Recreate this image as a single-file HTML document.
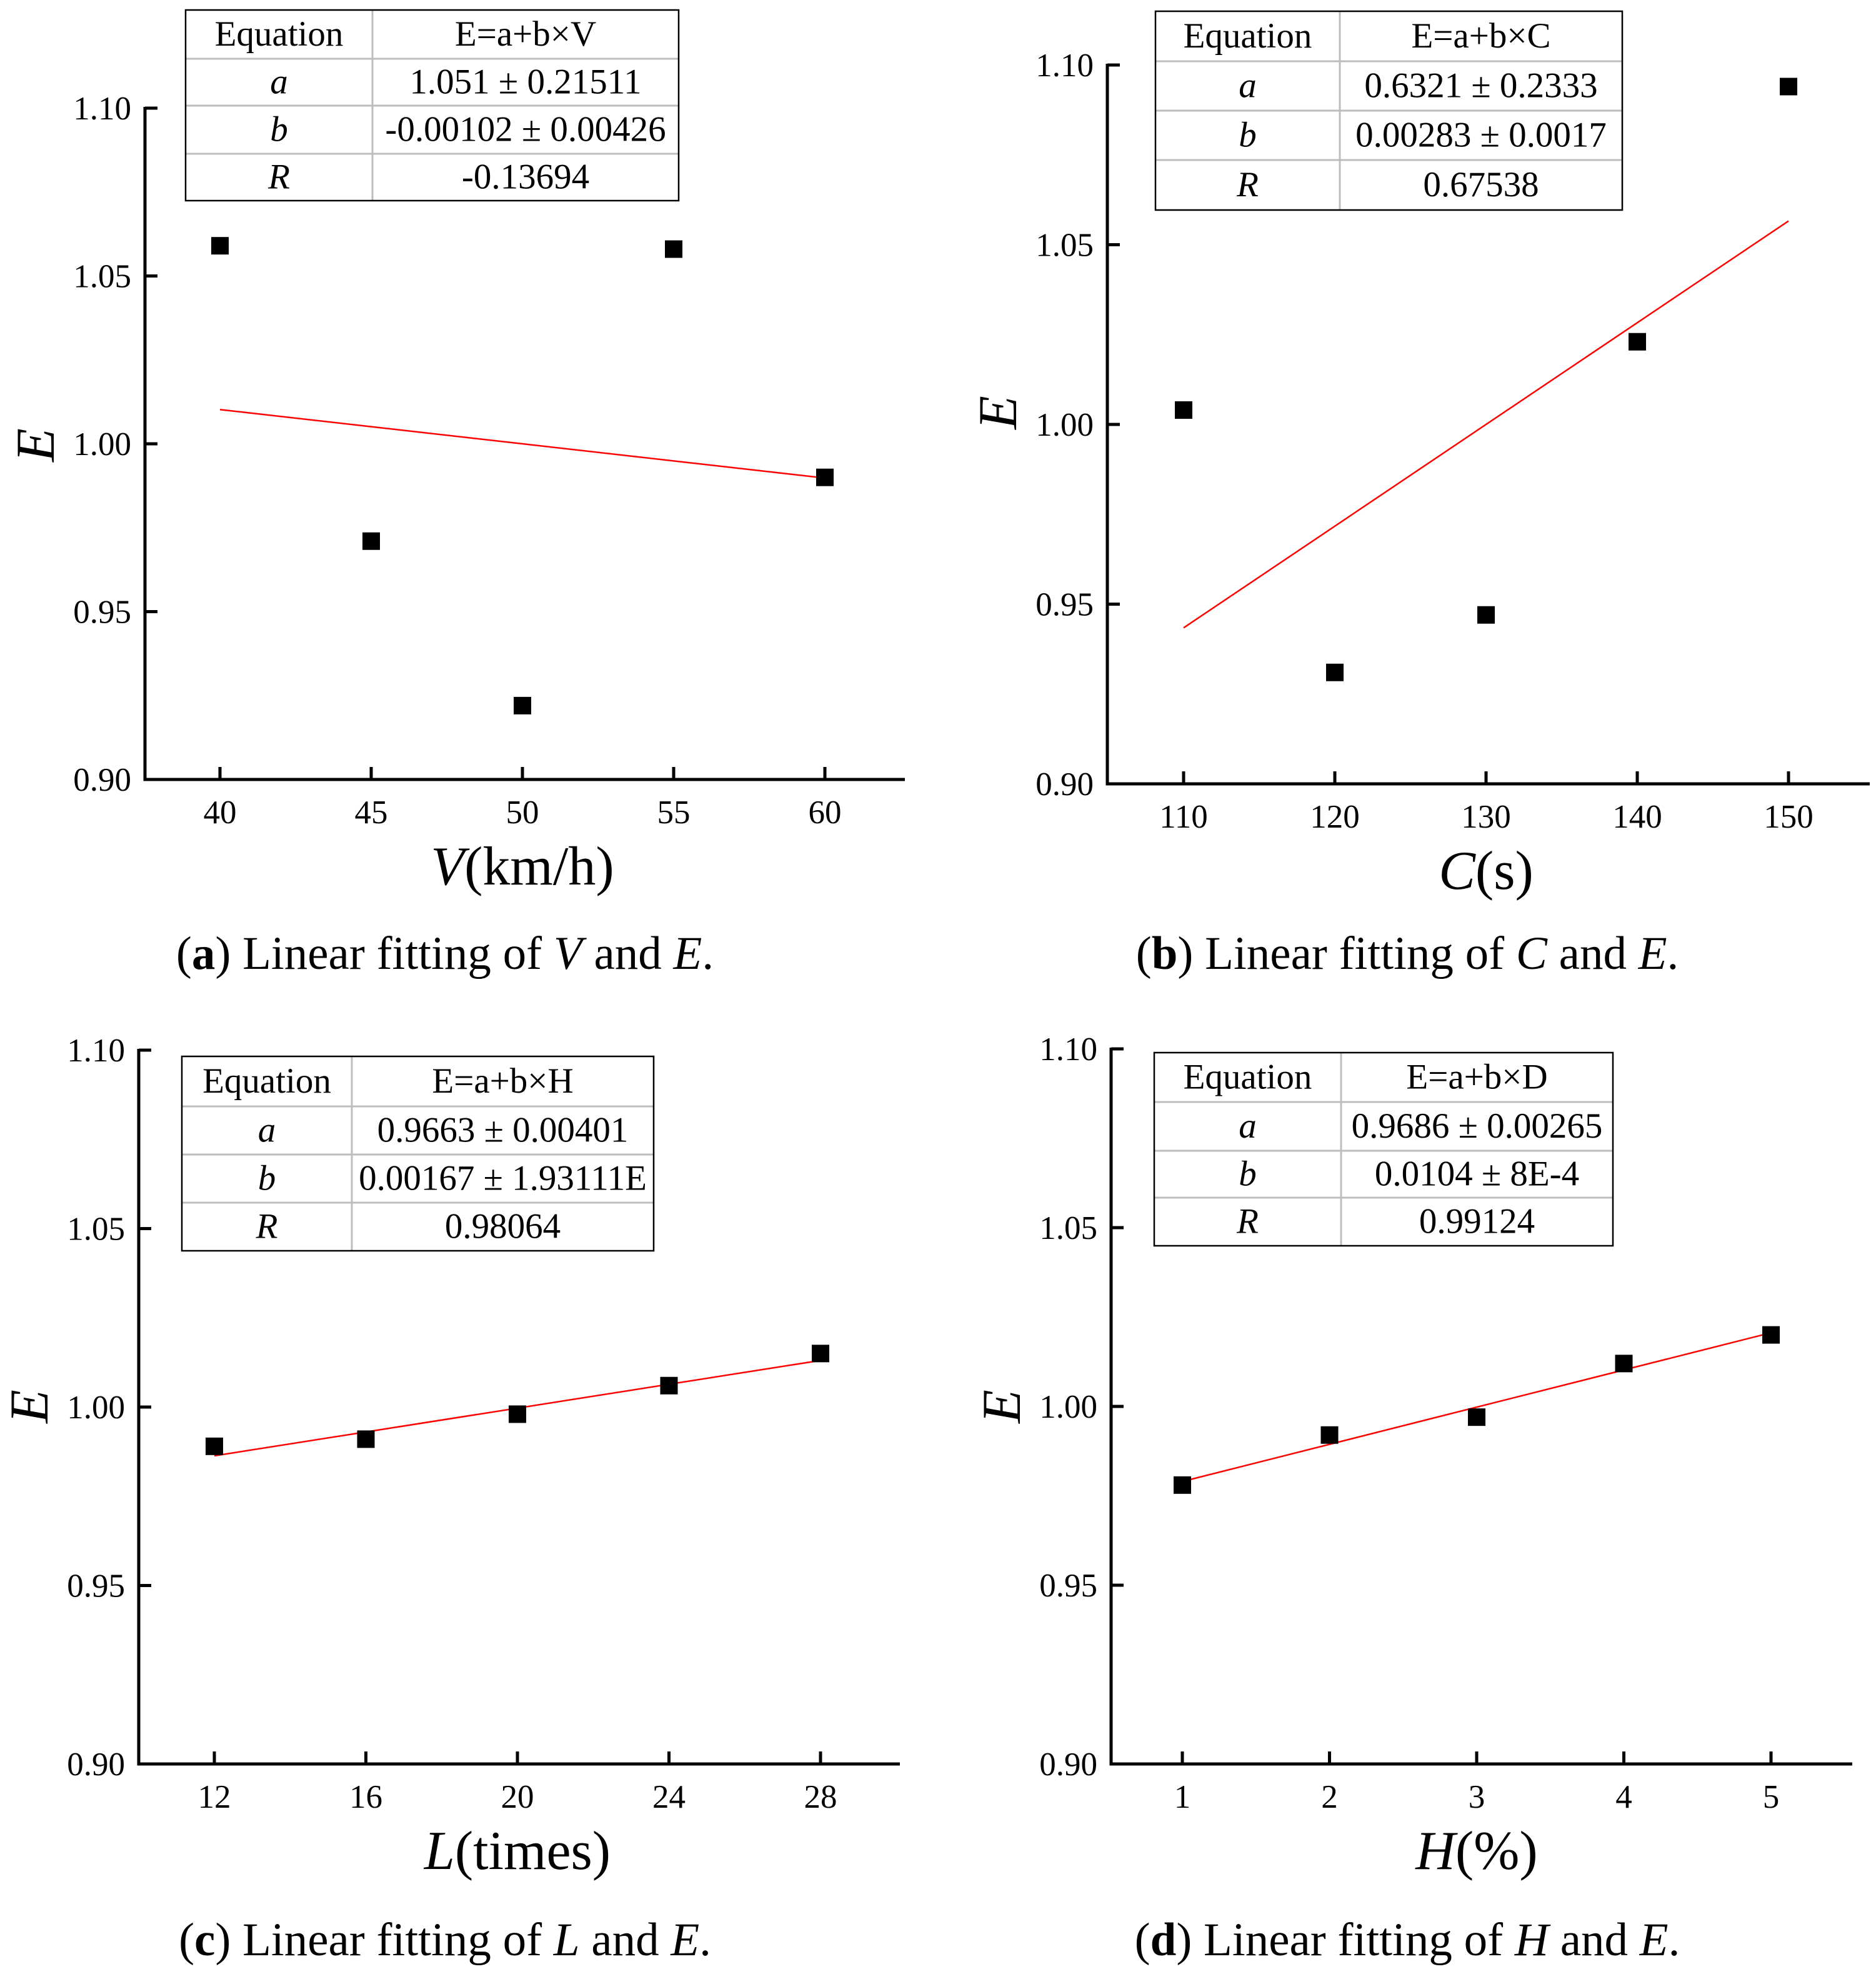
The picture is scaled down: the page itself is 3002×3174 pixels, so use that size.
<!DOCTYPE html>
<html><head><meta charset="utf-8">
<style>
html,body{margin:0;padding:0;background:#fff;}
svg{display:block;font-family:"Liberation Serif","DejaVu Serif",serif;}
</style></head>
<body>
<svg id="fig" width="3002" height="3174" viewBox="0 0 3002 3174" xmlns="http://www.w3.org/2000/svg"></svg>
<script>
// Panel data
const aX = [40, 45, 50, 55, 60];
const aY = [1.059, 0.971, 0.922, 1.058, 0.990];
const bX = [110, 120, 130, 140, 150];
const bY = [1.004, 0.931, 0.947, 1.023, 1.094];
const cX = [12, 16, 20, 24, 28];
const cY = [0.989, 0.991, 0.998, 1.006, 1.015];
const dX = [1, 2, 3, 4, 5];
const dY = [0.978, 0.992, 0.997, 1.012, 1.020];
const yTicks = [0.90, 0.95, 1.00, 1.05, 1.10];
const yTickLabels = ["0.90", "0.95", "1.00", "1.05", "1.10"];
const aFit = [1.051, -0.00102];
const bFit = [0.6321, 0.00283];
const cFit = [0.9663, 0.00167];
const dFit = [0.9686, 0.0104];
const aTable = ["E=a+b×V", "1.051 ± 0.21511", "-0.00102 ± 0.00426", "-0.13694"];
const bTable = ["E=a+b×C", "0.6321 ± 0.2333", "0.00283 ± 0.0017", "0.67538"];
const cTable = ["E=a+b×H", "0.9663 ± 0.00401", "0.00167 ± 1.93111E", "0.98064"];
const dTable = ["E=a+b×D", "0.9686 ± 0.00265", "0.0104 ± 8E-4", "0.99124"];

const NS = "http://www.w3.org/2000/svg";
const svg = document.getElementById("fig");
function mk(tag, attrs, parent, text) {
  const e = document.createElementNS(NS, tag);
  for (const k in attrs) e.setAttribute(k, attrs[k]);
  if (text !== undefined) e.textContent = text;
  parent.appendChild(e);
  return e;
}

const panels = [
  {id:"a", xs:aX, ys:aY, fit:aFit, tbl:aTable, ax:232, top:173, bot:1247, xend:1448, x0:352, x1:1320,
   tx:[297,596,1086], ty:[16,94,169,246,321], varName:"V", unit:"(km/h)", capX:712, eY:712},
  {id:"b", xs:bX, ys:bY, fit:bFit, tbl:bTable, ax:1772, top:104, bot:1254, xend:2992, x0:1894, x1:2862,
   tx:[1849,2144,2596], ty:[18,98,177,256,336], varName:"C", unit:"(s)", capX:2252, eY:660},
  {id:"c", xs:cX, ys:cY, fit:cFit, tbl:cTable, ax:222, top:1680, bot:2822, xend:1440, x0:343, x1:1313,
   tx:[291,563,1046], ty:[1690,1770,1847,1924,2001], varName:"L", unit:"(times)", capX:712, eY:2250},
  {id:"d", xs:dX, ys:dY, fit:dFit, tbl:dTable, ax:1778, top:1678, bot:2822, xend:2964, x0:1892, x1:2834,
   tx:[1847,2146,2581], ty:[1684,1763,1841,1916,1993], varName:"H", unit:"(%)", capX:2252, eY:2250}
];

panels.forEach(p => {
  const g = mk("g", {}, svg);
  
  
  const xmin = p.xs[0], xmax = p.xs[p.xs.length - 1];
  const sx = v => p.x0 + (v - xmin) / (xmax - xmin) * (p.x1 - p.x0);
  const sy = v => p.bot - (v - 0.90) / 0.20 * (p.bot - p.top);

  const yAxis = mk("line", {x1:p.ax, y1:p.top - 2, x2:p.ax, y2:p.bot + 2.5, stroke:"#000", "stroke-width":5}, g);
  
  
  const xAxis = mk("line", {x1:p.ax - 2.5, y1:p.bot, x2:p.xend, y2:p.bot, stroke:"#000", "stroke-width":5}, g);
  
  

  yTicks.forEach((t, i) => {
    const y = sy(t);
    const tk = mk("line", {x1:p.ax, y1:y, x2:p.ax + 20, y2:y, stroke:"#000", "stroke-width":5}, g);
    
    
    const lb = mk("text", {x:p.ax - 22, y:y + 18, "font-size":53, "text-anchor":"end"}, g, yTickLabels[i]);
    
    
  });
  p.xs.forEach(v => {
    const x = sx(v);
    const tk = mk("line", {x1:x, y1:p.bot, x2:x, y2:p.bot - 20, stroke:"#000", "stroke-width":5}, g);
    
    
    const lb = mk("text", {x:x, y:p.bot + 70, "font-size":53, "text-anchor":"middle"}, g, String(v));
    
    
  });

  const xt = mk("text", {x:(p.x0 + p.x1) / 2, y:p.bot + 168, "font-size":88, "text-anchor":"middle"}, g);
  
  
  mk("tspan", {"font-style":"italic"}, xt, p.varName);
  mk("tspan", {}, xt, p.unit);
  const ex = p.ax - 146;
  const yt = mk("text", {x:ex, y:p.eY, "font-size":88, "font-style":"italic", "text-anchor":"middle", transform:`rotate(-90 ${ex} ${p.eY})`}, g, "E");
  
  

  const fy0 = p.fit[0] + p.fit[1] * xmin, fy1 = p.fit[0] + p.fit[1] * xmax;
  const fl = mk("line", {x1:sx(xmin), y1:sy(fy0), x2:sx(xmax), y2:sy(fy1), stroke:"#ff0000", "stroke-width":2.5}, g);
  
  

  p.xs.forEach((v, i) => {
    const r = mk("rect", {x:sx(v) - 14, y:sy(p.ys[i]) - 14, width:28, height:28, fill:"#000"}, g);
    
    
  });

  const tg = mk("g", {}, g);
  
  
  const [L, M, R] = p.tx, ty = p.ty;
  mk("rect", {x:L, y:ty[0], width:R - L, height:ty[4] - ty[0], fill:"#fff", stroke:"none"}, tg);
  for (let i = 1; i < 4; i++) mk("line", {x1:L, y1:ty[i], x2:R, y2:ty[i], stroke:"#bdbdbd", "stroke-width":3}, tg);
  mk("line", {x1:M, y1:ty[0], x2:M, y2:ty[4], stroke:"#bdbdbd", "stroke-width":3}, tg);
  mk("rect", {x:L, y:ty[0], width:R - L, height:ty[4] - ty[0], fill:"none", stroke:"#000", "stroke-width":2.5}, tg);
  const leftCol = ["Equation", "a", "b", "R"];
  for (let i = 0; i < 4; i++) {
    const cy = (ty[i] + ty[i + 1]) / 2 + 18;
    const t1 = mk("text", {x:(L + M) / 2, y:cy, "font-size":57, "text-anchor":"middle", "font-style": i ? "italic" : "normal"}, tg, leftCol[i]);
    
    
    const t2 = mk("text", {x:(M + R) / 2, y:cy, "font-size":57, "text-anchor":"middle"}, tg, p.tbl[i]);
    
    
  }

  const capY = p.id === "a" || p.id === "b" ? 1550 : 3128;
  const cap = mk("text", {x:p.capX, y:capY, "font-size":75, "text-anchor":"middle"}, g);
  
  
  mk("tspan", {}, cap, "(");
  mk("tspan", {"font-weight":"bold"}, cap, p.id);
  mk("tspan", {}, cap, ") Linear fitting of ");
  mk("tspan", {"font-style":"italic"}, cap, p.varName);
  mk("tspan", {}, cap, " and ");
  mk("tspan", {"font-style":"italic"}, cap, "E");
  mk("tspan", {}, cap, ".");
});
</script>
</body></html>
